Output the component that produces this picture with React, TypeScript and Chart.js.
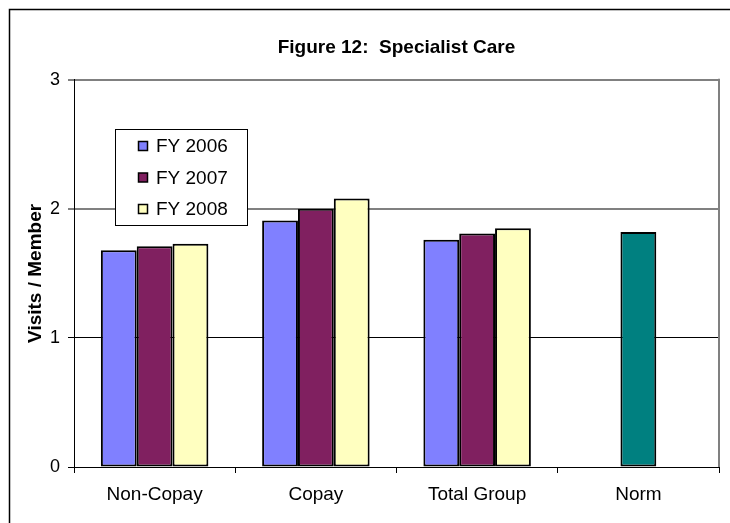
import React, { useEffect, useRef } from "react";
import { Chart, registerables } from "chart.js";

Chart.register(...registerables);

const categories = ["Non-Copay", "Copay", "Total Group", "Norm"];
const seriesLabels = ["FY 2006", "FY 2007", "FY 2008", "Norm"];
const fy2006 = [1.68, 1.91, 1.76, null];
const fy2007 = [1.71, 2.0, 1.81, null];
const fy2008 = [1.73, 2.08, 1.85, null];
const normValues = [null, null, null, 1.82];
const yTickValues = [0, 1, 2, 3];
const seriesColors = ["#8080FF", "#802060", "#FFFFC0", "#008080"];
const legendCount = 3;

const FONT = "'Liberation Sans', Arial, sans-serif";

const framePlugin = {
  id: "frame",
  beforeDatasetsDraw(chart: any) {
    const { ctx, chartArea } = chart;
    ctx.save();
    ctx.strokeStyle = "#808080";
    ctx.lineWidth = 2;
    ctx.beginPath();
    ctx.moveTo(chartArea.right, chartArea.top - 1);
    ctx.lineTo(chartArea.right, chartArea.bottom);
    ctx.stroke();
    ctx.restore();
  },
  afterDraw(chart: any) {
    const { ctx, width, height } = chart;
    ctx.save();
    ctx.strokeStyle = "#000";
    ctx.lineWidth = 1.5;
    ctx.beginPath();
    ctx.moveTo(9.5, height);
    ctx.lineTo(9.5, 9.5);
    ctx.lineTo(width, 9.5);
    ctx.stroke();
    ctx.restore();
  },
};

const boxLegendPlugin = {
  id: "boxLegend",
  afterDatasetsDraw(chart: any) {
    const { ctx } = chart;
    const x0 = 115.5, y0 = 129.5, w = 132, h = 96;
    ctx.save();
    ctx.fillStyle = "#fff";
    ctx.fillRect(x0, y0, w, h);
    ctx.strokeStyle = "#000";
    ctx.lineWidth = 1;
    ctx.strokeRect(x0, y0, w, h);
    ctx.font = `19px ${FONT}`;
    ctx.textBaseline = "middle";
    ctx.textAlign = "left";
    const rows = [146, 177.5, 209];
    chart.data.datasets.slice(0, legendCount).forEach((ds: any, i: number) => {
      const cy = rows[i];
      ctx.fillStyle = ds.backgroundColor;
      ctx.fillRect(138.5, cy - 4.5, 9, 9);
      ctx.lineWidth = 1.5;
      ctx.strokeStyle = "#000";
      ctx.strokeRect(138.5, cy - 4.5, 9, 9);
      ctx.fillStyle = "#000";
      ctx.fillText(ds.label, 156, cy + 1);
    });
    ctx.restore();
  },
};

export default function App() {
  const ref = useRef<HTMLCanvasElement | null>(null);

  useEffect(() => {
    document.body.style.margin = "0";
    document.body.style.background = "#fff";
    if (!ref.current) return;
    const mk = (label: string, data: (number | null)[], color: string, extra: any = {}) => ({
      label,
      data,
      backgroundColor: color,
      borderColor: "#000",
      borderWidth: 2,
      borderSkipped: false,
      skipNull: true,
      categoryPercentage: 2 / 3,
      barPercentage: 1,
      ...extra,
    });
    const chart = new Chart(ref.current, {
      type: "bar",
      data: {
        labels: categories,
        datasets: [
          mk(seriesLabels[0], fy2006, seriesColors[0]),
          mk(seriesLabels[1], fy2007, seriesColors[1]),
          mk(seriesLabels[2], fy2008, seriesColors[2]),
          mk(seriesLabels[3], normValues, seriesColors[3], { categoryPercentage: 2 / 9 }),
        ] as any,
      },
      options: {
        animation: false,
        responsive: false,
        devicePixelRatio: 1,
        layout: { padding: { left: 0, right: 11, top: 0, bottom: 0 } },
        plugins: {
          legend: { display: false },
          tooltip: { enabled: false },
          title: {
            display: true,
            text: "Figure 12:  Specialist Care",
            fullSize: false,
            color: "#000",
            font: { family: FONT, size: 19, weight: "bold" },
            padding: { top: 36, bottom: 21 },
          },
        },
        scales: {
          x: {
            offset: true,
            grid: {
              offset: true,
              drawOnChartArea: false,
              drawTicks: true,
              tickLength: 6,
              color: "#000",
              tickColor: "#000",
            },
            border: { display: true, color: "#000", width: 1 },
            ticks: { color: "#000", font: { family: FONT, size: 19 }, padding: 10, maxRotation: 0 },
            afterFit: (scale: any) => {
              scale.height = 56;
            },
          },
          y: {
            min: 0,
            max: 3,
            afterBuildTicks: (scale: any) => {
              scale.ticks = yTickValues.map((v) => ({ value: v }));
            },
            grid: {
              color: (c: any) => (c.tick && (c.tick.value === 1 || c.tick.value === 0) ? "#000" : "#808080"),
              lineWidth: (c: any) => (c.tick && (c.tick.value === 1 || c.tick.value === 0) ? 1 : 2),
              tickColor: "#000",
              tickWidth: 1,
              tickLength: 6,
            },
            border: { display: true, color: "#000", width: 1 },
            ticks: { color: "#000", font: { family: FONT, size: 18 }, padding: 8 },
            title: {
              display: true,
              text: "Visits / Member",
              color: "#000",
              font: { family: FONT, size: 19, weight: "bold" },
              padding: { top: 24, bottom: 0 },
            },
            afterFit: (scale: any) => {
              scale.width = 74;
            },
          },
        },
      } as any,
      plugins: [framePlugin, boxLegendPlugin],
    });
    return () => chart.destroy();
  }, []);

  return (
    <div style={{ width: 730, height: 523, overflow: "hidden" }}>
      <canvas ref={ref} width={730} height={523} style={{ display: "block" }} />
    </div>
  );
}
